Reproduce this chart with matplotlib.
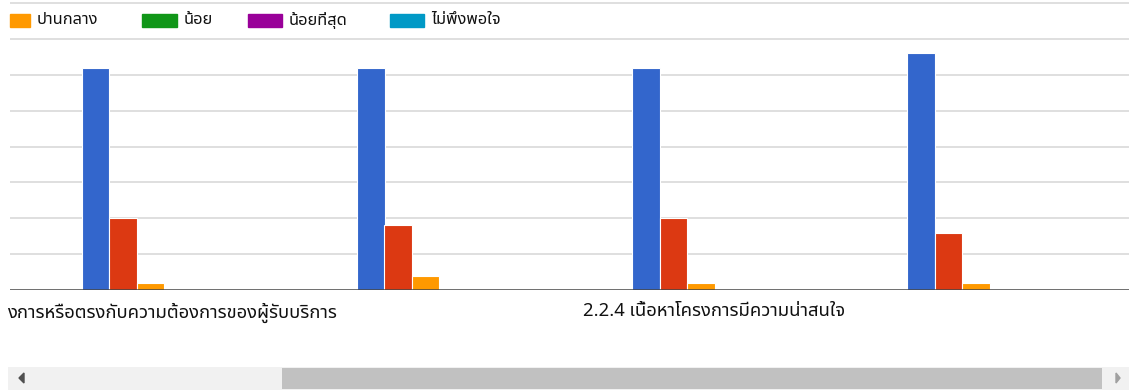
import matplotlib

matplotlib.use("Agg")
import matplotlib.pyplot as plt
import matplotlib.transforms as mtransforms
import numpy as np
from matplotlib import font_manager
from matplotlib.ft2font import FT2Font
from matplotlib.patches import Polygon, Rectangle

# response counts per question, one list per answer level
categories = [
    "งการหรือตรงกับความต้องการของผู้รับบริการ",
    "",
    "2.2.4 เนื้อหาโครงการมีความน่าสนใจ",
    "",
]
most = [62, 62, 62, 66]
much = [20, 18, 20, 16]
medium = [2, 4, 2, 2]
little = [0, 0, 0, 0]
least = [0, 0, 0, 0]
unsatisfied = [0, 0, 0, 0]

series_names = ["มากที่สุด", "มาก", "ปานกลาง", "น้อย", "น้อยที่สุด", "ไม่พึงพอใจ"]
series_colors = ["#3366cc", "#dc3912", "#ff9900", "#109618", "#990099", "#0099c6"]


def thai_family():
    found = []
    for entry in font_manager.fontManager.ttflist:
        try:
            cmap = FT2Font(entry.fname).get_charmap()
        except Exception:
            continue
        if 0x0E01 in cmap and 0x0E40 in cmap:
            found.append(entry.name)
    for pref in ["Tahoma", "Noto Sans Thai", "Noto Sans Thai UI", "Loma", "Garuda"]:
        if pref in found:
            return pref
    return found[0] if found else "DejaVu Sans"


FAMILY = [thai_family(), "DejaVu Sans"]
plt.rcParams["font.family"] = FAMILY

W, H = 1129, 391
fig = plt.figure(figsize=(W / 100, H / 100), dpi=100)


def px(x0, y0, x1, y1):
    """figure-fraction box from pixel corners measured from the top-left"""
    return [x0 / W, 1 - y1 / H, (x1 - x0) / W, (y1 - y0) / H]


ax = fig.add_axes(px(10, 0, W, 290))
ax.set_facecolor("none")

data = [most, much, medium, little, least, unsatisfied]
x = np.arange(len(categories))
bw = 0.1
for i, (vals, color) in enumerate(zip(data, series_colors)):
    ax.bar(x + (i - 2.5) * bw, vals, width=bw, color=color,
           edgecolor="white", linewidth=0.8, zorder=3)

ax.set_xlim((10 - 164.5) / 275, (W - 164.5) / 275)
ax.set_ylim(0, 80.85)
ax.set_yticks(np.arange(10, 81, 10))
ax.yaxis.grid(True, color="#dcdcdc", lw=1.3)
ax.tick_params(axis="y", left=False, labelleft=False)
ax.set_xticks(x)
ax.set_xticklabels(categories, fontsize=13.3, color="#111111")
ax.tick_params(axis="x", length=0, pad=9)
# nudge the long first label so it stays inside the figure
first = ax.get_xticklabels()[0]
first.set_transform(first.get_transform()
                    + mtransforms.ScaledTranslation(0.07, 0, fig.dpi_scale_trans))
for side in ["left", "right", "top", "bottom"]:
    ax.spines[side].set_visible(False)
ax.axhline(0, color="#444444", lw=1.8, zorder=4)

# legend row; the first two entries sit left of the visible window
legend_items = [(10, 30, 2), (142, 177, 3), (248, 282, 4), (390, 424, 5)]
for x0, x1, k in legend_items:
    fig.patches.append(Rectangle((x0 / W, 1 - 27 / H), (x1 - x0) / W, 13 / H,
                                 transform=fig.transFigure,
                                 color=series_colors[k]))
    fig.text((x1 + 7) / W, 1 - 20.5 / H, series_names[k], fontsize=11.8,
             color="#111111", va="center", ha="left")

# horizontal scrollbar under the chart
fig.patches.append(Rectangle((8 / W, 1 - 390 / H), (W - 8) / W, 23 / H,
                             transform=fig.transFigure, color="#f1f1f1", lw=0))
fig.patches.append(Rectangle((282 / W, 1 - 389 / H), (1102 - 282) / W, 21 / H,
                             transform=fig.transFigure, color="#c1c1c1", lw=0))
fig.patches.append(Polygon([(19 / W, 1 - 378 / H), (24 / W, 1 - 373 / H),
                            (24 / W, 1 - 383 / H)], closed=True,
                           transform=fig.transFigure, color="#505050"))
fig.patches.append(Polygon([(1120 / W, 1 - 378 / H), (1116 / W, 1 - 373 / H),
                            (1116 / W, 1 - 383 / H)], closed=True,
                           transform=fig.transFigure, color="#a0a0a0"))

fig.savefig("out.png", dpi=100)
